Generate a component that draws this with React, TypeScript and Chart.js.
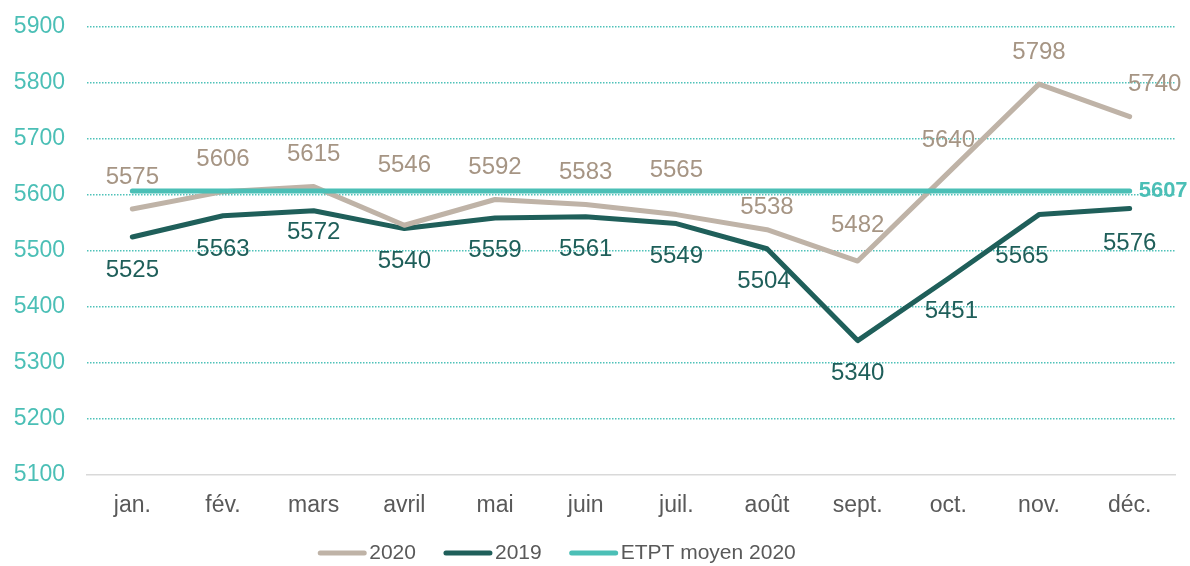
import React, { useEffect, useRef } from "react";
import { Chart, registerables } from "chart.js";

Chart.register(...registerables);

const months = ["jan.", "fév.", "mars", "avril", "mai", "juin", "juil.", "août", "sept.", "oct.", "nov.", "déc."];
const values2020 = [5575, 5606, 5615, 5546, 5592, 5583, 5565, 5538, 5482, 5640, 5798, 5740];
const values2019 = [5525, 5563, 5572, 5540, 5559, 5561, 5549, 5504, 5340, 5451, 5565, 5576];
const etptMoyen2020 = 5607;
const yMin = 5100;
const yMax = 5900;
const yStep = 100;
const seriesNames = ["2020", "2019", "ETPT moyen 2020"];

// label nudges (style only)
const dy2020 = [-32, -32, -32, -60, -32, -32, -44, -22, -36, -32, -32, -32];
const dx2020 = [0, 0, 0, 0, 0, 0, 0, 0, 0, 0, 0, 25];
const dy2019 = [33, 34, 22, 33, 32, 33, 33, 33, 33, 33, 42, 35];
const dx2019 = [0, 0, 0, 0, 0, 0, 0, -3, 0, 3, -17, 0];

const FONT = "'Liberation Sans', Arial, sans-serif";
const C2020 = "#BFB3A7";
const C2020_LABEL = "#A69584";
const C2019 = "#1F5F5A";
const CETPT = "#4BBFB6";
const CTICK_Y = "#4BBFB6";
const CTEXT = "#595959";

const dataLabelPlugin = {
  id: "dataLabels",
  afterDatasetsDraw(chart: any) {
    const ctx = chart.ctx;
    ctx.save();
    ctx.textBaseline = "middle";
    const m0 = chart.getDatasetMeta(0);
    ctx.font = `24px ${FONT}`;
    ctx.fillStyle = C2020_LABEL;
    ctx.textAlign = "center";
    m0.data.forEach((pt: any, j: number) => {
      ctx.fillText(String(values2020[j]), pt.x + dx2020[j], pt.y + dy2020[j]);
    });
    const m1 = chart.getDatasetMeta(1);
    ctx.fillStyle = C2019;
    m1.data.forEach((pt: any, j: number) => {
      ctx.fillText(String(values2019[j]), pt.x + dx2019[j], pt.y + dy2019[j]);
    });
    const m2 = chart.getDatasetMeta(2);
    const last = m2.data[m2.data.length - 1];
    ctx.font = `bold 22px ${FONT}`;
    ctx.fillStyle = CETPT;
    ctx.textAlign = "left";
    ctx.fillText(String(etptMoyen2020), last.x + 9, last.y);
    ctx.restore();
  },
};

const legendPlugin = {
  id: "customLegend",
  afterDraw(chart: any) {
    const ctx = chart.ctx;
    const colors = [C2020, C2019, CETPT];
    ctx.save();
    ctx.font = `21px ${FONT}`;
    const lineW = 48;
    const gapLT = 3;
    const gapItems = 28;
    const widths = seriesNames.map((n) => lineW + gapLT + ctx.measureText(n).width);
    const total = widths.reduce((a, b) => a + b, 0) + gapItems * (seriesNames.length - 1);
    let x = 557 - total / 2;
    const y = 553;
    ctx.textBaseline = "middle";
    ctx.textAlign = "left";
    seriesNames.forEach((n, i) => {
      ctx.strokeStyle = colors[i];
      ctx.lineWidth = 5;
      ctx.lineCap = "round";
      ctx.beginPath();
      ctx.moveTo(x + 2, y);
      ctx.lineTo(x + lineW - 2, y);
      ctx.stroke();
      ctx.fillStyle = CTEXT;
      ctx.fillText(n, x + lineW + gapLT, y);
      x += widths[i] + gapItems;
    });
    ctx.restore();
  },
};

export default function App() {
  const ref = useRef<HTMLCanvasElement | null>(null);
  useEffect(() => {
    document.body.style.margin = "0";
    const canvas = ref.current;
    if (!canvas) return;
    const chart = new Chart(canvas, {
      type: "line",
      data: {
        labels: months,
        datasets: [
          {
            label: seriesNames[0],
            data: values2020,
            borderColor: C2020,
            borderWidth: 5,
            pointRadius: 0,
            tension: 0,
            borderCapStyle: "round",
            borderJoinStyle: "round",
            order: 2,
          },
          {
            label: seriesNames[1],
            data: values2019,
            borderColor: C2019,
            borderWidth: 5,
            pointRadius: 0,
            tension: 0,
            borderCapStyle: "round",
            borderJoinStyle: "round",
            order: 3,
          },
          {
            label: seriesNames[2],
            data: months.map(() => etptMoyen2020),
            borderColor: CETPT,
            borderWidth: 5,
            pointRadius: 0,
            tension: 0,
            borderCapStyle: "round",
            order: 1,
          },
        ],
      },
      options: {
        responsive: false,
        animation: false,
        layout: { padding: { left: 0, right: 15, top: 27, bottom: 41 } },
        plugins: {
          legend: { display: false },
          tooltip: { enabled: false },
        },
        scales: {
          x: {
            offset: true,
            grid: { display: false, drawTicks: false },
            border: { display: true, color: "#D9D9D9", width: 1.5 },
            ticks: {
              color: CTEXT,
              font: { family: FONT, size: 23 },
              padding: 17,
              maxRotation: 0,
              autoSkip: false,
            },
            afterFit(scale: any) {
              scale.height = 50;
              scale.paddingLeft = 0;
              scale.paddingRight = 0;
            },
          },
          y: {
            min: yMin,
            max: yMax,
            grid: {
              drawTicks: false,
              color: (c: any) => (c.tick && c.tick.value === yMin ? "rgba(0,0,0,0)" : "#4FC2B9"),
              lineWidth: 1.5,
            },
            border: { display: false, dash: [1.5, 1.5] },
            ticks: {
              stepSize: yStep,
              color: CTICK_Y,
              font: { family: FONT, size: 23 },
              padding: 22,
              callback: (v: any) => String(v),
            },
            afterFit(scale: any) {
              scale.width = 87;
              scale.paddingTop = 0;
              scale.paddingBottom = 0;
            },
          },
        },
      },
      plugins: [dataLabelPlugin, legendPlugin],
    } as any);
    return () => chart.destroy();
  }, []);
  return (
    <div style={{ width: 1190, height: 566 }}>
      <canvas ref={ref} width={1190} height={566} style={{ display: "block" }} />
    </div>
  );
}
